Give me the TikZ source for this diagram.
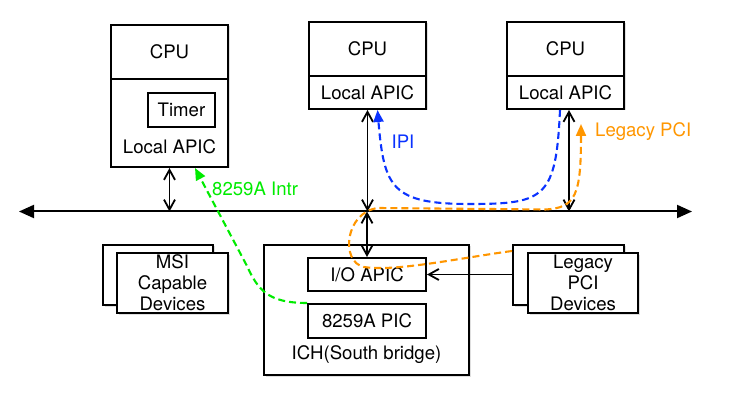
\documentclass[tikz,border=0pt]{standalone}
\usepackage{fontspec}
\setmainfont{TeX Gyre Heros}
\usetikzlibrary{arrows.meta,shadows}
\definecolor{intrgreen}{RGB}{0,235,0}
\definecolor{ipiblue}{RGB}{10,50,255}
\definecolor{pciorange}{RGB}{255,150,0}
\tikzset{
  box/.style={
      draw, line width=2pt, fill=white,
      drop shadow={shadow xshift=1.5pt,shadow yshift=-1.5pt,opacity=0.25},
      inner sep=0pt, align=center,
      font=\fontsize{18.6}{21}\selectfont
      },
  inbox/.style={
      draw, line width=2pt, fill=white,
      inner sep=0pt,
      font=\fontsize{18.6}{21}\selectfont
      },
  lbl/.style={font=\fontsize{18.6}{21}\selectfont, inner sep=0pt},
  link/.style={
      line width=1.8pt,
      {Straight Barb[length=10pt,width=11pt]}-{Straight Barb[length=10pt,width=11pt]}
      },
  intr/.style={
      line width=2.1pt, dash pattern=on 7pt off 4pt,
      -{Triangle[length=12pt,width=10pt]}
      }
}

\begin{document}
\begin{tikzpicture}[x=1pt,y=-1pt]
\useasboundingbox (0,0) rectangle (729,401);
\node [box, minimum width=117pt, minimum height=54pt] (cpuA) at (169.5,52) {CPU};
\node [box, minimum width=117pt, minimum height=88pt] (lapicA) at (169.5,123) {};
\node [lbl] (lapicAname) at (169.5,147) {Local APIC};
\node [inbox, minimum width=67pt, minimum height=34pt] (timer) at (181.5,110) {Timer};
\node [box, minimum width=117pt, minimum height=54pt] (cpuB) at (367.5,49) {CPU};
\node [box, minimum width=117pt, minimum height=33pt] (lapicB) at (367.5,92.5) {Local APIC};
\node [box, minimum width=117pt, minimum height=54pt] (cpuC) at (565.5,49) {CPU};
\node [box, minimum width=117pt, minimum height=33pt] (lapicC) at (565.5,92.5) {Local APIC};

\node [box, minimum width=110pt, minimum height=60pt] (msiA) at (158,275) {};
\node [box, minimum width=111pt, minimum height=60pt] (msiB) at (172.5,283) {MSI\\Capable\\Devices};
\node [box, minimum width=111pt, minimum height=60pt] (pciA) at (568.5,275) {};
\node [box, minimum width=110pt, minimum height=60pt] (pciB) at (583,283) {Legacy\\PCI\\Devices};

\node [box, minimum width=205pt, minimum height=130pt] (ich) at (366.5,310) {};
\node [lbl] (ichname) at (366.5,355) {ICH(South bridge)};
\node [inbox, minimum width=118pt, minimum height=33pt] (ioapic) at (367,274.5) {I/O APIC};
\node [inbox, minimum width=118pt, minimum height=34pt] (pic) at (367,321) {8259A PIC};

\coordinate (busL) at (19,211.5);
\coordinate (busR) at (692,211.5);
\coordinate (pcitip) at (581,124);
\draw [line width=2pt, {Triangle[length=15pt,width=13pt]}-{Triangle[length=15pt,width=13pt]}] (busL) -- (busR);
\draw [link] (lapicA.south) -- (lapicA.south |- busL);
\draw [link] (lapicB.south) -- (lapicB.south |- busL);
\draw [link] ([xshift=3.5pt]lapicC.south) -- ([xshift=3.5pt]lapicC.south |- busL);
\draw [link] (ioapic.north |- busL) -- (ioapic.north);
\draw [line width=1.8pt, -{Straight Barb[length=10pt,width=11pt]}] (pciA.west |- ioapic.east) -- (ioapic.east);

\draw [intr, intrgreen] (pic.north west) .. controls (268,303) and (258,290) .. (247,266) -- ([xshift=25.5pt]lapicA.south);
\draw [intr, ipiblue] ([xshift=-5.5pt]lapicC.south) .. controls (556,198) and (545,204) .. (470,204) .. controls (392,204) and (384,188) .. ([xshift=10pt]lapicB.south);
\draw [intr, pciorange] ([yshift=-7pt]pciA.north west) .. controls (460,258) and (395,272) .. (364,267) .. controls (340,262) and (345,212) .. (378,208) -- (545,209.5) .. controls (576,208) and (581,195) .. (pcitip);
\node [lbl, text=intrgreen, anchor=west] (intrname) at (212,189) {8259A Intr};
\node [lbl, text=ipiblue] (ipiname) at (403,142) {IPI};
\node [lbl, text=pciorange, anchor=west] (pciname) at (595,132) {Legacy PCI};
\end{tikzpicture}
\end{document}
